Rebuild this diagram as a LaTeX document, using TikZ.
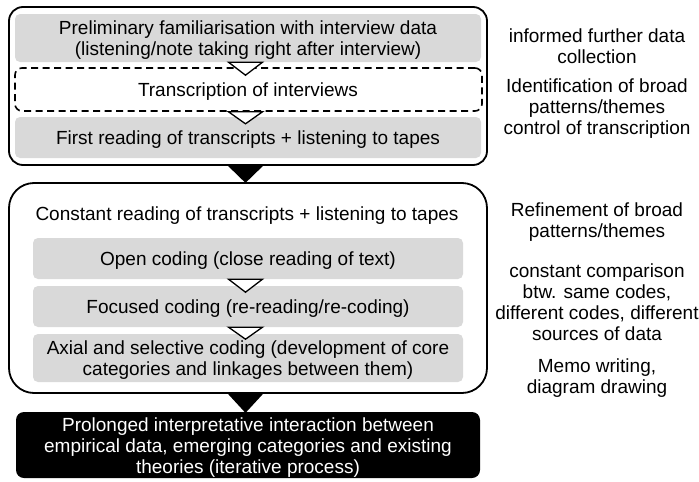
\documentclass[tikz,border=0pt]{standalone}
\usepackage{fontspec}
\setmainfont{Liberation Sans}
\usetikzlibrary{calc}
\definecolor{boxgray}{HTML}{D9D9D9}
\begin{document}
\begin{tikzpicture}[x=1pt,y=-1pt,
  every node/.style={font=\fontsize{19pt}{21pt}\selectfont, align=center, inner sep=0pt},
  outerbox/.style={draw, line width=1.8pt, rounded corners=#1},
  graybox/.style={fill=boxgray, rounded corners=5pt, minimum width=#1},
  dashbox/.style={draw, dashed, dash pattern=on 7pt off 4.5pt, line width=1.6pt, rounded corners=7pt, minimum width=467pt, minimum height=43pt},
  blackbox/.style={fill=black, rounded corners=8pt, minimum width=464pt, minimum height=66pt},
  boxtext/.style={},
  sidetext/.style={font=\fontsize{19pt}{21pt}\selectfont},
  wtri/.style={draw, fill=white, line width=1.3pt, line join=miter},
  btri/.style={fill=black}
]
\useasboundingbox (0,0) rectangle (699,482);
% first group
\node[outerbox=14pt, minimum width=478pt, minimum height=158pt] (outA) at (248,86) {};
\node[graybox=466pt, minimum height=48pt] (g1) at (248,38) {};
\node[boxtext] (t1) at (248,40.5) {Preliminary familiarisation with interview data\\(listening/note taking right after interview)};
\node[dashbox] (d1) at (248.5,89.5) {};
\node[boxtext] (t2) at (248,92) {Transcription of interviews};
\node[graybox=466pt, minimum height=41pt] (g3) at (248,137.5) {};
\node[boxtext] (t3) at (248,140) {First reading of transcripts + listening to tapes};
% second group
\node[outerbox=25pt, minimum width=478pt, minimum height=210pt] (outB) at (248,288) {};
\node (head) at (247,215.5) {Constant reading of transcripts + listening to tapes};
\node[graybox=430pt, minimum height=41pt] (g4) at (248,258.5) {};
\node[boxtext] (t4) at (248,261) {Open coding (close reading of text)};
\node[graybox=430pt, minimum height=41pt] (g5) at (248,306.5) {};
\node[boxtext] (t5) at (248,309) {Focused coding (re-reading/re-coding)};
\node[graybox=430pt, minimum height=48pt] (g6) at (248,358) {};
\node[boxtext] (t6) at (248,360.5) {Axial and selective coding (development of core\\categories and linkages between them)};
% final
\node[blackbox] (fin) at (248,445) {};
\node[boxtext, text=white] (t7) at (248,447.5) {Prolonged interpretative interaction between\\empirical data, emerging categories and existing\\theories (iterative process)};
% side texts
\node[sidetext] (s1) at (597,46) {informed further data\\collection};
\node[sidetext] (s2) at (597,108.5) {Identification of broad\\patterns/themes\\control of transcription};
\node[sidetext] (s3) at (597,222) {Refinement of broad\\patterns/themes};
\node[sidetext] (s4) at (597,302.5) {constant comparison\\btw. same codes,\\different codes, different\\sources of data};
\node[sidetext] (s5) at (597,378) {Memo writing,\\diagram drawing};
% triangles
\coordinate (ax) at (245.5,0);
\draw[wtri] ($(g1.south -| ax)+(-17,0)$) -- ++(34,0) -- ++(-17,13) -- cycle;
\draw[wtri] ($(d1.south -| ax)+(-17,0)$) -- ++(34,0) -- ++(-17,12) -- cycle;
\fill[btri] ($(outA.south -| ax)+(-17.5,0)$) -- ++(35,0) -- ++(-17.5,17) -- cycle;
\draw[wtri] ($(g4.south -| ax)+(-17,0)$) -- ++(34,0) -- ++(-17,13) -- cycle;
\draw[wtri] ($(g5.south -| ax)+(-17,0)$) -- ++(34,0) -- ++(-17,12) -- cycle;
\fill[btri] ($(outB.south -| ax)+(-17.5,0)$) -- ++(35,0) -- ++(-17.5,19) -- cycle;
\end{tikzpicture}
\end{document}
